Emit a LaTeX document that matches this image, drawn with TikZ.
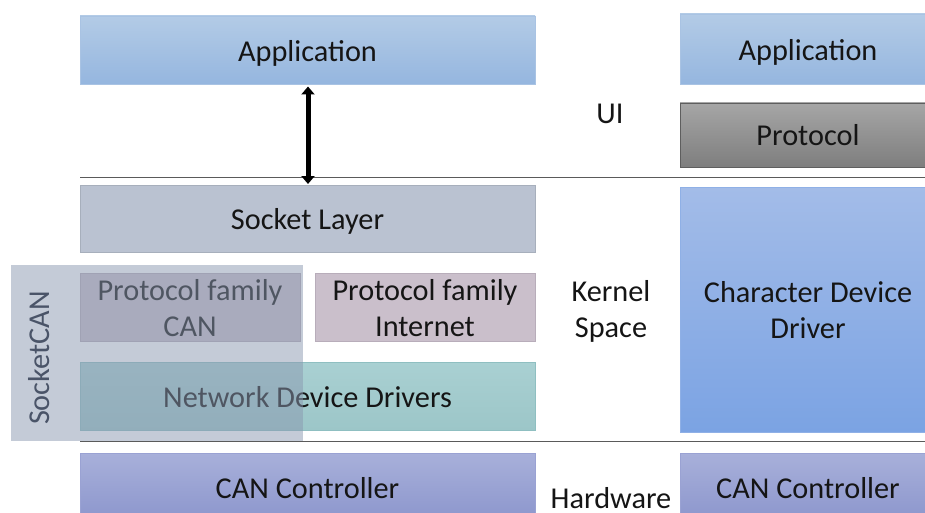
\documentclass[tikz,border=0pt]{standalone}
\usepackage{fontspec}
\setmainfont{Carlito}
\usetikzlibrary{arrows.meta}

\definecolor{appTop}{HTML}{B3CBE6}
\definecolor{appBot}{HTML}{95B6DF}
\definecolor{appEdge}{HTML}{A9C3E3}
\definecolor{protoTop}{HTML}{A6A6A6}
\definecolor{protoBot}{HTML}{7E7E7E}
\definecolor{protoEdge}{HTML}{5E5E5E}
\definecolor{sockFill}{HTML}{BAC2D1}
\definecolor{famFill}{HTML}{CABFCB}
\definecolor{famEdge}{HTML}{B8ADBA}
\definecolor{netTop}{HTML}{A9D0D2}
\definecolor{netBot}{HTML}{9CC6C8}
\definecolor{netEdge}{HTML}{8FBFC1}
\definecolor{chrTop}{HTML}{A3BCE8}
\definecolor{chrBot}{HTML}{7BA3E3}
\definecolor{chrEdge}{HTML}{8FB0E6}
\definecolor{canTop}{HTML}{A8B0DA}
\definecolor{canBot}{HTML}{8B95CC}
\definecolor{canEdge}{HTML}{9AA2D3}
\definecolor{sockcanFill}{HTML}{8A98B0}
\definecolor{sockcanText}{HTML}{4A5468}
\definecolor{sepLine}{HTML}{5A5A5A}
\definecolor{ink}{HTML}{151515}

\tikzset{
  layer/.style={rectangle, inner sep=0pt},
  txt/.style={inner sep=0pt, align=center, text=ink, yshift=-3pt,
    font=\fontsize{30.3}{36}\selectfont},
  midtxt/.style={inner sep=0pt, align=center, text=ink,
    font=\fontsize{30.3}{36}\selectfont},
  sep/.style={draw=sepLine, line width=1pt},
}

\begin{document}
\begin{tikzpicture}[x=1pt, y=-1pt]
\useasboundingbox (0,0) rectangle (925,513);
\clip (0,0) rectangle (925,513);
\fill[white] (0,0) rectangle (925,513);

% separators between UI, kernel and hardware
\coordinate (topL) at (80,177.5);
\coordinate (topR) at (925,177.5);
\coordinate (botL) at (80,441.5);
\coordinate (botR) at (925,441.5);
\draw[sep] (topL) -- (topR);
\draw[sep] (botL) -- (botR);

% left stack (SocketCAN)
\node[layer, minimum width=455pt, minimum height=68pt, draw=appEdge,
  top color=appTop, bottom color=appBot,
  label={[txt]center:Application}] (appL) at (307.5,50) {};
\node[layer, minimum width=455pt, minimum height=67pt, draw=sockFill!90!black,
  fill=sockFill, label={[txt]center:Socket Layer}] (sock) at (307.5,218.5) {};
\node[layer, minimum width=220pt, minimum height=68pt, draw=famEdge,
  fill=famFill, label={[txt, yshift=2pt]center:Protocol family\\CAN}] (pfcan) at (190,307) {};
\node[layer, minimum width=220pt, minimum height=68pt, draw=famEdge,
  fill=famFill, label={[txt, yshift=2pt]center:Protocol family\\Internet}] (pfinet) at (425,307) {};
\node[layer, minimum width=455pt, minimum height=68pt, draw=netEdge,
  top color=netTop, bottom color=netBot,
  label={[txt, yshift=2pt]center:Network Device Drivers}] (netdrv) at (307.5,396) {};
\node[layer, minimum width=455pt, minimum height=70pt, draw=canEdge,
  top color=canTop, bottom color=canBot,
  label={[txt, yshift=3pt]center:CAN Controller}] (canL) at (307.5,488) {};

% SocketCAN bracket, translucent over the protocol family and drivers
\node[rectangle, inner sep=0pt, minimum width=292pt, minimum height=176pt,
  fill=sockcanFill, fill opacity=0.5] (sockcan) at (157,353) {};
\node[midtxt, rotate=90, text=sockcanText] (sockcanTxt) at (39,358) {SocketCAN};

% application <-> socket layer
\coordinate (arrTop) at (308,86.5);
\coordinate (arrBot) at (308,184);
\draw[line width=5pt, {Triangle[length=8pt,width=13pt]}-{Triangle[length=8pt,width=13pt]}]
  (arrTop) -- (arrBot);

% middle labels
\node[midtxt] (ui) at (610,114) {UI};
\node[midtxt] (kernel) at (611,311) {Kernel\\Space};
\node[midtxt, text depth=0pt, anchor=base] (hw) at (611,508) {Hardware};

% right stack (character device)
\node[layer, minimum width=256pt, minimum height=70pt, draw=appEdge,
  top color=appTop, bottom color=appBot,
  label={[txt]center:Application}] (appR) at (808,49) {};
\node[layer, minimum width=256pt, minimum height=64pt, draw=protoEdge,
  top color=protoTop, bottom color=protoBot,
  label={[txt, yshift=3pt]center:Protocol}] (proto) at (808,135) {};
\node[layer, minimum width=256pt, minimum height=245pt, draw=chrEdge,
  top color=chrTop, bottom color=chrBot,
  label={[txt, yshift=2pt]center:Character Device\\Driver}] (chr) at (808,309.5) {};
\node[layer, minimum width=256pt, minimum height=70pt, draw=canEdge,
  top color=canTop, bottom color=canBot,
  label={[txt, yshift=3pt]center:CAN Controller}] (canR) at (808,488) {};
\end{tikzpicture}
\end{document}
